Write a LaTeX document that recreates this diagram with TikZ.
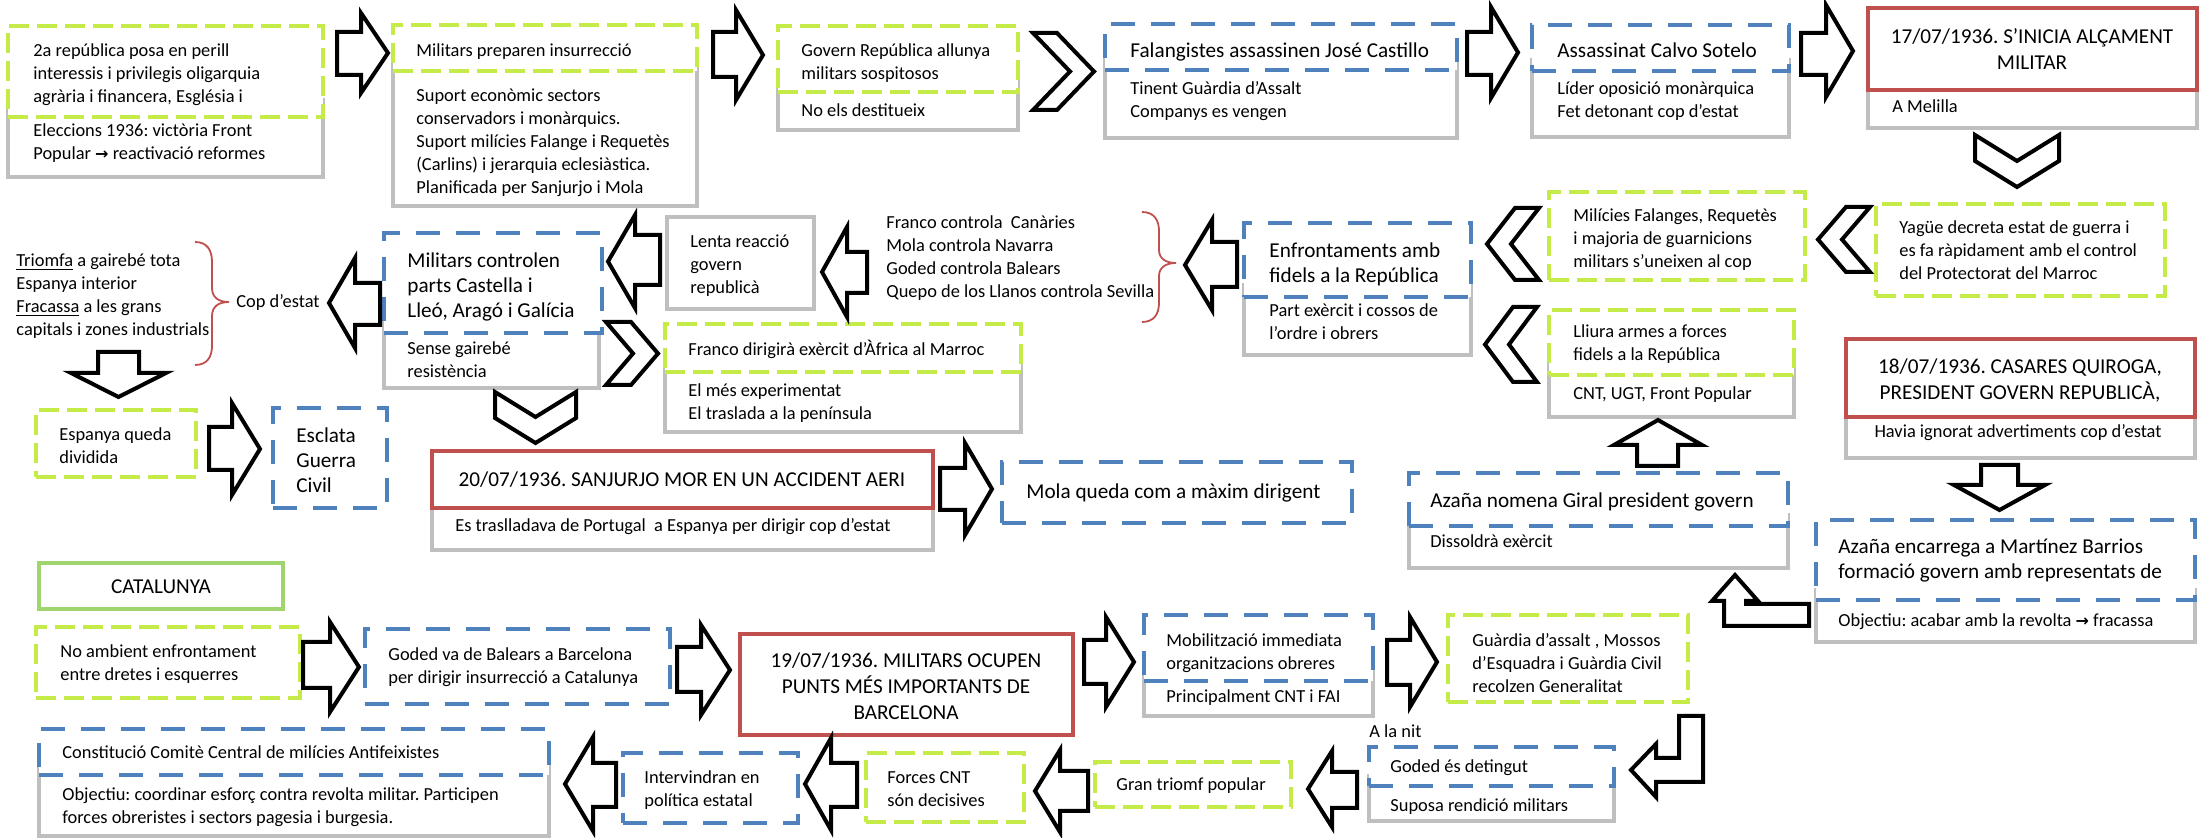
\documentclass[tikz,border=0pt]{standalone}
\usepackage{fontspec}
\setmainfont{Carlito}
\newfontfamily\arrfont{DejaVu Sans}
\usetikzlibrary{fit,calc}
\definecolor{limeg}{RGB}{196,235,72}
\definecolor{blueb}{RGB}{79,129,189}
\definecolor{redb}{RGB}{192,80,77}
\definecolor{grayb}{RGB}{191,191,191}
\definecolor{catg}{RGB}{160,212,110}
\newcommand{\rar}{{\arrfont\bfseries\fontsize{8}{10}\selectfont →}}
\newcommand{\mybox}[6]{\node[inner sep=0pt, fit={(#3,#4)(#5,#6)}, #2] (#1) {};}
\newcommand{\mytl}[5]{\node[#2, anchor=north west] (#1) at (#3,{#4-12}) {\strut #5};}
\newcommand{\mytc}[5]{\node[#2, anchor=north] (#1) at (#3,{#4-12}) {\strut #5};}
\newcommand{\bArR}[7]{\draw[barrow] (#1,#6) -- (#2,#6) -- (#2,#4) -- (#3,{(#4+#5)/2}) -- (#2,#5) -- (#2,#7) -- (#1,#7) -- cycle;}
\newcommand{\bArL}[7]{\draw[barrow] (#3,#6) -- (#2,#6) -- (#2,#4) -- (#1,{(#4+#5)/2}) -- (#2,#5) -- (#2,#7) -- (#3,#7) -- cycle;}
\newcommand{\bArV}[7]{\draw[barrow] (#2,#5) -- (#3,#5) -- (#3,#6) -- (#4,#6) -- ({(#1+#4)/2},#7) -- (#1,#6) -- (#2,#6) -- cycle;}
\newcommand{\chR}[5]{\draw[barrow] (#1,#3) -- ({#2-#5},#3) -- (#2,{(#3+#4)/2}) -- ({#2-#5},#4) -- (#1,#4) -- ({#1+#5},{(#3+#4)/2}) -- cycle;}
\newcommand{\chL}[5]{\draw[barrow] (#2,#3) -- ({#1+#5},#3) -- (#1,{(#3+#4)/2}) -- ({#1+#5},#4) -- (#2,#4) -- ({#2-#5},{(#3+#4)/2}) -- cycle;}
\newcommand{\chD}[5]{\draw[barrow] (#1,#3) -- ({(#1+#2)/2},{#3+#5}) -- (#2,#3) -- (#2,{#4-#5}) -- ({(#1+#2)/2},#4) -- (#1,{#4-#5}) -- cycle;}
\frenchspacing
\begin{document}
\begin{tikzpicture}[x=0.5pt,y=-0.5pt,
  gbody/.style={draw=grayb, line width=1.7pt},
  ghead/.style={draw=limeg, line width=2pt, dash pattern=on 10pt off 4pt, fill=white},
  bhead/.style={draw=blueb, line width=2pt, dash pattern=on 12pt off 8pt, fill=white},
  rhead/.style={draw=redb, line width=2pt, fill=white},
  chead/.style={draw=catg, line width=2.2pt, fill=white},
  barrow/.style={draw=black, line width=2pt, fill=white, line join=miter, miter limit=10},
  brace/.style={draw=redb, line width=0.9pt},
  sm/.style={font=\fontsize{9.2}{11.5}\selectfont, align=left, inner sep=0pt},
  lg/.style={font=\fontsize{10.6}{12.5}\selectfont, align=left, inner sep=0pt},
  rd/.style={font=\fontsize{10.6}{13}\selectfont, align=center, inner sep=0pt},
]
\useasboundingbox (0,0) rectangle (2201,838);

% ---------- boxes: gray bodies ----------
\mybox{g1}{gbody}{8}{100}{323}{177}
\mybox{g2}{gbody}{393}{60}{697}{206}
\mybox{g3}{gbody}{778}{80}{1018}{130}
\mybox{g4}{gbody}{1105}{60}{1457}{138}
\mybox{g5}{gbody}{1532}{60}{1789}{137}
\mybox{g6}{gbody}{1868}{80}{2197}{128}
\mybox{g9}{gbody}{1549}{360}{1794}{417}
\mybox{g10}{gbody}{1244}{285}{1471}{355}
\mybox{g11}{gbody}{667}{217}{814}{309}
\mybox{g12}{gbody}{384}{320}{599}{388}
\mybox{g15}{gbody}{665}{360}{1021}{432}
\mybox{g16}{gbody}{432}{495}{933}{550}
\mybox{g18}{gbody}{1409}{515}{1788}{568}
\mybox{g20}{gbody}{1846}{405}{2195}{458}
\mybox{g19}{gbody}{1816}{590}{2195}{642}
\mybox{g24}{gbody}{1144}{670}{1373}{716}
\mybox{g26}{gbody}{1369}{776}{1614}{821}
\mybox{g30}{gbody}{39}{765}{549}{836}

% ---------- headers ----------
\mybox{h1}{ghead}{8}{26}{323}{117}
\mybox{h2}{ghead}{393}{25}{697}{71}
\mybox{h3}{ghead}{778}{26}{1018}{92}
\mybox{h4}{bhead}{1105}{24}{1457}{70}
\mybox{h5}{bhead}{1532}{25}{1789}{71}
\mybox{h6}{rhead}{1868}{8}{2197}{90}
\mybox{h7}{ghead}{1876}{204}{2165}{296}
\mybox{h8}{ghead}{1549}{192}{1805}{280}
\mybox{h9}{ghead}{1549}{310}{1794}{375}
\mybox{h10}{bhead}{1244}{223}{1471}{297}
\mybox{h12}{bhead}{384}{233}{602}{333}
\mybox{h13}{ghead}{36}{410}{196}{477}
\mybox{h14}{bhead}{273}{408}{387}{508}
\mybox{h15}{ghead}{665}{324}{1021}{372}
\mybox{h16}{rhead}{432}{451}{933}{508}
\mybox{h17}{bhead}{1002}{462}{1352}{523}
\mybox{h18}{bhead}{1409}{473}{1788}{526}
\mybox{h20}{rhead}{1846}{339}{2195}{417}
\mybox{h19}{bhead}{1816}{520}{2195}{600}
\mybox{h21}{chead}{39}{563}{283}{609}
\mybox{h22}{ghead}{36}{627}{300}{698}
\mybox{h23}{bhead}{365}{629}{670}{704}
\mybox{h24}{rhead}{740}{634}{1073}{735}
\mybox{h25}{bhead}{1144}{615}{1373}{681}
\mybox{h26}{ghead}{1448}{615}{1688}{702}
\mybox{h27}{bhead}{1369}{747}{1614}{786}
\mybox{h28}{ghead}{1095}{762}{1291}{807}
\mybox{h29}{ghead}{866}{753}{1024}{822}
\mybox{h31}{bhead}{623}{753}{798}{823}
\mybox{h30}{bhead}{39}{729}{549}{775}

% ---------- texts ----------
\mytl{t1}{sm}{33}{52}{2a república posa en perill\\interessis i privilegis oligarquia\\agrària i financera, Església i}
\mytl{t1b}{sm}{33}{132}{Eleccions 1936: victòria Front\\Popular \rar{} reactivació reformes}
\mytl{t2}{sm}{416}{52}{Militars preparen insurrecció}
\mytl{t2b}{sm}{416}{97}{Suport econòmic sectors\\conservadors i monàrquics.\\Suport milícies Falange i Requetès\\(Carlins) i jerarquia eclesiàstica.\\Planificada per Sanjurjo i Mola}
\mytl{t3}{sm}{801}{52}{Govern República allunya\\militars sospitosos}
\mytl{t3b}{sm}{801}{112}{No els destitueix}
\mytl{t4}{lg}{1130}{52}{Falangistes assassinen José Castillo}
\mytl{t4b}{sm}{1130}{90}{Tinent Guàrdia d’Assalt\\Companys es vengen}
\mytl{t5}{lg}{1557}{52}{Assassinat Calvo Sotelo}
\mytl{t5b}{sm}{1557}{90}{Líder oposició monàrquica\\Fet detonant cop d’estat}
\mytc{t6}{rd}{2032}{37}{17/07/1936. S’INICIA ALÇAMENT\\MILITAR}
\mytl{t6b}{sm}{1892}{108}{A Melilla}
\mytl{t7}{sm}{1899}{229}{Yagüe decreta estat de guerra i\\es fa ràpidament amb el control\\del Protectorat del Marroc}
\mytl{t8}{sm}{1573}{217}{Milícies Falanges, Requetès\\i majoria de guarnicions\\militars s’uneixen al cop}
\mytl{t9}{sm}{1573}{333}{Lliura armes a forces\\fidels a la República}
\mytl{t9b}{sm}{1573}{395}{CNT, UGT, Front Popular}
\mytl{t10}{lg}{1269}{252}{Enfrontaments amb\\fidels a la República}
\mytl{t10b}{sm}{1269}{312}{Part exèrcit i cossos de\\l’ordre i obrers}
\mytl{t11}{sm}{886}{224}{Franco controla\ \ Canàries\\Mola controla Navarra\\Goded controla Balears\\Quepo de los Llanos controla Sevilla}
\mytl{t12}{sm}{690}{243}{Lenta reacció\\govern\\republicà}
\mytl{t13}{lg}{407}{262}{Militars controlen\\parts Castella i\\Lleó, Aragó i Galícia}
\mytl{t13b}{sm}{407}{350}{Sense gairebé\\resistència}
\mytl{t14}{sm}{236}{303}{Cop d’estat}
\mytl{t15}{sm}{16}{262}{\underline{Triomfa} a gairebé tota\\Espanya interior\\\underline{Fracassa} a les grans\\capitals i zones industrials}
\mytl{t16}{sm}{59}{436}{Espanya queda\\dividida}
\mytl{t17}{lg}{296}{437}{Esclata\\Guerra\\Civil}
\mytl{t18}{sm}{688}{351}{Franco dirigirà exèrcit d’Àfrica al Marroc}
\mytl{t18b}{sm}{688}{392}{El més experimentat\\El traslada a la península}
\mytc{t19}{rd}{682}{480}{20/07/1936. SANJURJO MOR EN UN ACCIDENT AERI}
\mytl{t19b}{sm}{455}{527}{Es traslladava de Portugal\ \ a Espanya per dirigir cop d’estat}
\mytl{t20}{lg}{1026}{493}{Mola queda com a màxim dirigent}
\mytl{t21}{lg}{1430}{502}{Azaña nomena Giral president govern}
\mytl{t21b}{sm}{1430}{543}{Dissoldrà exèrcit}
\mytc{t22}{rd}{2020}{367}{18/07/1936. CASARES QUIROGA,\\PRESIDENT GOVERN REPUBLICÀ,}
\mytc{t22b}{sm}{2018}{433}{Havia ignorat advertiments cop d’estat}
\mytl{t23}{lg}{1838}{548}{Azaña encarrega a Martínez Barrios\\formació govern amb representats de}
\mytl{t23b}{sm}{1838}{622}{Objectiu: acabar amb la revolta \rar{} fracassa}
\mytc{t24}{lg}{161}{588}{CATALUNYA}
\mytl{t25}{sm}{60}{653}{No ambient enfrontament\\entre dretes i esquerres}
\mytl{t26}{sm}{388}{656}{Goded va de Balears a Barcelona\\per dirigir insurrecció a Catalunya}
\mytc{t27}{rd}{906}{661}{19/07/1936. MILITARS OCUPEN\\PUNTS MÉS IMPORTANTS DE\\BARCELONA}
\mytl{t28}{sm}{1166}{642}{Mobilització immediata\\organitzacions obreres}
\mytl{t28b}{sm}{1166}{698}{Principalment CNT i FAI}
\mytl{t29}{sm}{1472}{642}{Guàrdia d’assalt , Mossos\\d’Esquadra i Guàrdia Civil\\recolzen Generalitat}
\mytl{t30}{sm}{1369}{733}{A la nit}
\mytl{t31}{sm}{1390}{768}{Goded és detingut}
\mytl{t31b}{sm}{1390}{807}{Suposa rendició militars}
\mytl{t32}{sm}{1116}{786}{Gran triomf popular}
\mytl{t33}{sm}{887}{779}{Forces CNT\\són decisives}
\mytl{t34}{sm}{644}{779}{Intervindran en\\política estatal}
\mytl{t35}{sm}{62}{754}{Constitució Comitè Central de milícies Antifeixistes}
\mytl{t35b}{sm}{62}{796}{Objectiu: coordinar esforç contra revolta militar. Participen\\forces obreristes i sectors pagesia i burgesia.}

% ---------- braces ----------
\draw[brace] (195,242) .. controls (207,242) and (212,250) .. (212,262) -- (212,288) .. controls (212,297) and (218,302) .. (229,302) .. controls (218,302) and (212,307) .. (212,316) -- (212,346) .. controls (212,357) and (207,365) .. (195,365);
\draw[brace] (1142,212) .. controls (1154,212) and (1159,220) .. (1159,231) -- (1159,250) .. controls (1159,258) and (1165,263) .. (1176,263) .. controls (1165,263) and (1159,268) .. (1159,276) -- (1159,303) .. controls (1159,314) and (1154,322) .. (1142,322);

% ---------- block arrows ----------
\bArR{337}{361}{388}{13}{93}{32}{75}
\bArR{713}{736}{763}{10}{100}{32}{77}
\bArR{1467}{1491}{1518}{7}{98}{32}{75}
\bArR{1801}{1826}{1853}{5}{97}{33}{75}
\bArL{1185}{1212}{1237}{220}{310}{242}{287}
\bArL{822}{847}{867}{227}{317}{252}{293}
\bArL{608}{635}{660}{215}{308}{235}{285}
\bArL{329}{355}{380}{258}{348}{283}{325}
\bArV{71}{98}{139}{166}{352}{373}{397}
\bArR{209}{232}{260}{403}{495}{427}{470}
\bArR{940}{965}{992}{443}{535}{468}{510}
\bArV{1614}{1637}{1678}{1702}{466}{445}{420}
\bArV{1954}{1981}{2018}{2045}{465}{485}{510}
\bArR{303}{330}{359}{622}{712}{642}{688}
\bArR{677}{701}{730}{625}{715}{647}{692}
\bArR{1084}{1106}{1134}{617}{707}{640}{684}
\bArR{1387}{1410}{1437}{617}{707}{640}{685}
\bArL{1308}{1332}{1357}{751}{827}{772}{808}
\bArL{1035}{1060}{1088}{750}{832}{771}{811}
\bArL{805}{831}{857}{738}{830}{763}{807}
\bArL{565}{593}{616}{737}{831}{763}{807}
% bent arrows
\draw[barrow] (1809,604) -- (1746,604) -- (1746,601) -- (1758,601) -- (1735,575) -- (1712,601) -- (1724,601) -- (1724,626) -- (1809,626) -- cycle;
\draw[barrow] (1679,716) -- (1703,716) -- (1703,782) -- (1656,782) -- (1656,797) -- (1631,770) -- (1656,744) -- (1656,758) -- (1679,758) -- cycle;

% ---------- chevrons ----------
\chR{1033}{1094}{33}{110}{37}
\chD{1975}{2059}{135}{187}{26}
\chL{1818}{1870}{207}{272}{28}
\chL{1487}{1539}{208}{280}{28}
\chL{1485}{1537}{307}{382}{28}
\chR{606}{658}{322}{385}{27}
\chD{495}{576}{392}{443}{25}
\end{tikzpicture}
\end{document}
